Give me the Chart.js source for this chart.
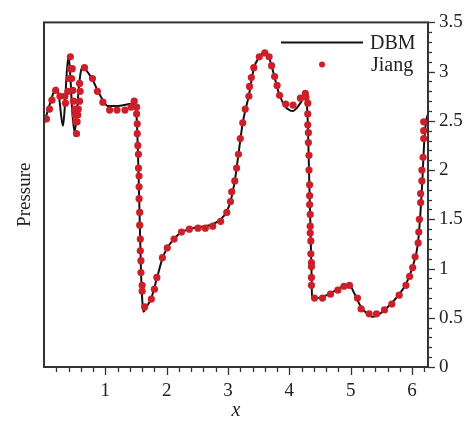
<!DOCTYPE html>
<html><head><meta charset="utf-8">
<script src="https://cdn.jsdelivr.net/npm/chart.js@4.4.1/dist/chart.umd.min.js"></script>
<style>html,body{margin:0;padding:0;background:#fff}#wrap{width:470px;height:421px}</style>
</head><body><div id="wrap"><canvas id="c" width="470" height="421"></canvas></div>
<script>
const seriesNames = ['DBM', 'Jiang'];
const dbmX = [0.00,0.05,0.10,0.15,0.20,0.25,0.28,0.31,0.34,0.37,0.40,0.43,0.46,0.50,0.53,0.57,0.60,0.63,0.68,0.78,0.89,0.97,1.04,1.17,1.30,1.39,1.47,1.50,1.52,1.54,1.56,1.58,1.60,1.62,1.66,1.75,1.84,1.93,2.01,2.12,2.24,2.37,2.50,2.63,2.75,2.88,2.98,3.04,3.11,3.17,3.24,3.34,3.42,3.51,3.59,3.67,3.76,3.84,3.94,4.00,4.06,4.12,4.20,4.26,4.28,4.30,4.32,4.34,4.36,4.37,4.41,4.54,4.67,4.79,4.89,4.97,5.05,5.15,5.25,5.36,5.45,5.55,5.67,5.79,5.90,6.01,6.10,6.16,6.20,6.23,6.26];
const dbmY = [2.47,2.58,2.68,2.78,2.84,2.72,2.55,2.45,2.65,2.98,3.16,2.95,2.60,2.38,2.55,2.85,3.00,3.05,3.02,2.93,2.79,2.70,2.65,2.65,2.66,2.67,2.67,2.62,2.40,2.00,1.50,1.00,0.70,0.56,0.60,0.70,0.90,1.10,1.21,1.30,1.37,1.40,1.42,1.43,1.45,1.50,1.58,1.68,1.89,2.16,2.48,2.76,3.03,3.15,3.20,3.14,2.94,2.76,2.64,2.61,2.60,2.63,2.70,2.76,2.70,2.50,2.00,1.50,1.00,0.71,0.70,0.71,0.75,0.79,0.83,0.84,0.76,0.63,0.55,0.51,0.53,0.58,0.65,0.74,0.84,1.02,1.28,1.80,2.30,2.50,2.57];
const jiangX = [0.04,0.09,0.13,0.19,0.26,0.34,0.35,0.39,0.41,0.43,0.43,0.45,0.46,0.47,0.48,0.50,0.51,0.52,0.53,0.54,0.55,0.56,0.58,0.58,0.59,0.66,0.79,0.87,0.96,1.07,1.19,1.32,1.42,1.47,1.51,1.51,1.52,1.52,1.53,1.54,1.54,1.55,1.55,1.55,1.56,1.56,1.57,1.57,1.58,1.58,1.60,1.60,1.64,1.75,1.80,1.84,1.93,2.01,2.12,2.24,2.37,2.51,2.63,2.75,2.88,2.98,3.04,3.06,3.11,3.14,3.17,3.20,3.24,3.28,3.34,3.35,3.38,3.42,3.51,3.60,3.67,3.71,3.76,3.80,3.84,3.94,4.06,4.18,4.26,4.27,4.30,4.30,4.30,4.31,4.31,4.32,4.32,4.33,4.33,4.33,4.34,4.34,4.34,4.35,4.35,4.36,4.36,4.36,4.36,4.41,4.54,4.67,4.79,4.89,4.98,5.11,5.17,5.30,5.42,5.55,5.67,5.79,5.90,5.96,6.01,6.05,6.10,6.11,6.12,6.14,6.14,6.16,6.16,6.18,6.19,6.19,6.19];
const jiangY = [2.52,2.62,2.71,2.81,2.75,2.75,2.68,2.80,2.93,3.03,3.15,2.93,3.03,2.81,2.70,2.62,2.56,2.49,2.37,2.49,2.56,2.62,2.70,2.88,2.80,3.04,2.93,2.80,2.69,2.61,2.61,2.61,2.64,2.70,2.64,2.57,2.47,2.37,2.25,2.16,2.02,1.94,1.83,1.71,1.57,1.44,1.30,1.18,1.08,0.96,0.83,0.77,0.61,0.69,0.79,0.91,1.11,1.21,1.30,1.37,1.40,1.41,1.41,1.43,1.48,1.57,1.68,1.78,1.89,2.02,2.16,2.32,2.48,2.62,2.75,2.85,2.94,3.04,3.15,3.19,3.15,3.06,2.95,2.86,2.76,2.67,2.66,2.73,2.78,2.74,2.68,2.57,2.46,2.38,2.28,2.15,2.00,1.85,1.74,1.65,1.55,1.43,1.36,1.28,1.15,1.06,1.02,0.91,0.83,0.70,0.70,0.74,0.78,0.82,0.83,0.70,0.59,0.54,0.54,0.58,0.64,0.73,0.83,0.92,1.01,1.12,1.26,1.37,1.50,1.67,1.76,1.89,2.00,2.13,2.32,2.40,2.49];
const xTickLabels = [1, 2, 3, 4, 5, 6];
const yTickLabels = [0, 0.5, 1, 1.5, 2, 2.5, 3, 3.5];
const xMinorStep = 0.2;
const yMinorStep = 0.1;

const SERIF = "'Liberation Serif', 'Times New Roman', serif";
const INK = '#222';
const RED = '#cd1f2a';

const decor = {
  id: 'decor',
  afterDraw(chart) {
    const {ctx, chartArea: a, scales} = chart;
    const x = scales.x, y = scales.y;
    ctx.save();
    ctx.strokeStyle = '#333';
    ctx.lineWidth = 1.3;
    const nx = Math.floor(x.max / xMinorStep + 1e-6);
    for (let i = 1; i <= nx; i++) {
      const v = i * xMinorStep;
      const major = Math.abs(v - Math.round(v)) < 1e-6;
      const px = Math.round(x.getPixelForValue(v)) + 0.5;
      ctx.beginPath(); ctx.moveTo(px, a.bottom); ctx.lineTo(px, a.bottom + (major ? 8 : 5)); ctx.stroke();
    }
    const ny = Math.round(y.max / yMinorStep);
    for (let i = 0; i <= ny; i++) {
      const v = i * yMinorStep;
      const major = Math.abs(v / 0.5 - Math.round(v / 0.5)) < 1e-6;
      const py = Math.round(y.getPixelForValue(v)) + 0.5;
      ctx.beginPath(); ctx.moveTo(a.right, py); ctx.lineTo(a.right + (major ? 7 : 4), py); ctx.stroke();
    }
    ctx.lineWidth = 2;
    ctx.strokeRect(a.left, a.top, a.right - a.left, a.bottom - a.top);
    ctx.fillStyle = INK;
    ctx.font = '20px ' + SERIF;
    ctx.textBaseline = 'middle';
    ctx.textAlign = 'left';
    const lx1 = a.right - 147, lx2 = a.right - 65, ly1 = a.top + 20, ly2 = a.top + 42;
    ctx.strokeStyle = '#111'; ctx.lineWidth = 2;
    ctx.beginPath(); ctx.moveTo(lx1, ly1); ctx.lineTo(lx2, ly1); ctx.stroke();
    ctx.fillText(seriesNames[0], a.right - 58, ly1 + 1);
    ctx.fillStyle = RED;
    ctx.beginPath(); ctx.arc((lx1 + lx2) / 2, ly2, 3, 0, Math.PI * 2); ctx.fill();
    ctx.fillStyle = INK;
    ctx.fillText(seriesNames[1], a.right - 57, ly2 + 1);
    ctx.restore();
  }
};

new Chart(document.getElementById('c'), {
  type: 'scatter',
  data: {
    datasets: [
      {
        label: seriesNames[1],
        data: jiangX.map((v, i) => ({x: v, y: jiangY[i]})),
        backgroundColor: RED, borderColor: RED, borderWidth: 0,
        pointRadius: 3.6, showLine: false, order: 1
      },
      {
        label: seriesNames[0], type: 'line',
        data: dbmX.map((v, i) => ({x: v, y: dbmY[i]})),
        borderColor: '#111', borderWidth: 2, pointRadius: 0,
        cubicInterpolationMode: 'monotone', fill: false, order: 2
      }
    ]
  },
  options: {
    responsive: false, animation: false, devicePixelRatio: 1,
    layout: {padding: {top: 16, left: 0, right: 0, bottom: 0}},
    plugins: {legend: {display: false}, tooltip: {enabled: false}},
    scales: {
      x: {
        type: 'linear', position: 'bottom', min: 0, max: 6.26,
        afterBuildTicks: s => { s.ticks = xTickLabels.map(v => ({value: v})); },
        ticks: {autoSkip: false, maxRotation: 0, padding: 13, color: INK,
                font: {family: SERIF, size: 19}, callback: v => String(v)},
        grid: {display: false, drawTicks: false, tickLength: 0},
        border: {display: false},
        title: {display: true, text: 'x', color: INK, padding: {top: 0, bottom: -2},
                font: {family: SERIF, size: 20, style: 'italic'}},
        afterFit: s => { s.height = 54; }
      },
      y: {
        type: 'linear', position: 'right', min: 0, max: 3.5,
        afterBuildTicks: s => { s.ticks = yTickLabels.map(v => ({value: v})); },
        ticks: {autoSkip: false, padding: 11, color: INK,
                font: {family: SERIF, size: 19}, callback: v => String(v)},
        grid: {display: false, drawTicks: false, tickLength: 0},
        border: {display: false},
        afterFit: s => { s.width = 42; }
      },
      yl: {
        type: 'linear', position: 'left', min: 0, max: 3.5,
        ticks: {display: false},
        grid: {display: false, drawTicks: false, tickLength: 0},
        border: {display: false},
        title: {display: true, text: 'Pressure', color: INK, padding: {top: 14, bottom: 0},
                font: {family: SERIF, size: 19}},
        afterFit: s => { s.width = 44; }
      }
    }
  },
  plugins: [decor]
});
</script>
</body></html>
